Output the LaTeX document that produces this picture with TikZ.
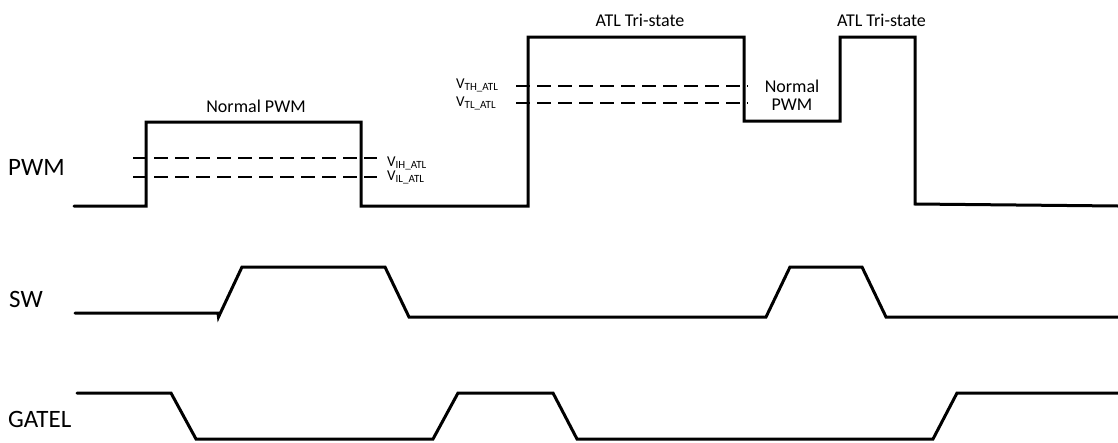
\documentclass[tikz,border=0pt]{standalone}
\usepackage{fontspec}
\setmainfont{Carlito}
\usetikzlibrary{positioning}

\newcommand{\vsub}[1]{{\fontsize{11}{11}\selectfont\raisebox{-2.5pt}{#1}}}

\begin{document}
\begin{tikzpicture}[x=1pt, y=-1pt,
		wave/.style={line width=3pt, line join=miter, line cap=round},
		thresh/.style={line width=2pt, dash pattern=on 13.5pt off 7.5pt},
		signame/.style={anchor=base west, inner sep=0pt, font=\fontsize{25}{30}\selectfont},
		phase/.style={inner sep=0pt, align=center, font=\fontsize{18}{18}\selectfont},
		vlevel/.style={anchor=base west, inner sep=0pt, font=\fontsize{15}{16}\selectfont}]
			\useasboundingbox (0, 0) rectangle (1118, 442);

			% signal names
			\node (pwm) at (8, 175) [signame] {PWM};
			\node (sw) at (9, 307) [signame] {SW};
			\node (gatel) at (8, 427) [signame] {GATEL};

			% phase labels
			\node (norm1) at (256, 112) [phase, anchor=base] {Normal PWM};
			\node (tri1) at (640, 26) [phase, anchor=base] {ATL Tri-state};
			\node (norm2) at (792, 95) [phase] {Normal\\PWM};
			\node (tri2) at (881.5, 26) [phase, anchor=base] {ATL Tri-state};

			% threshold labels
			\node (vih) at (387, 166) [vlevel] {V\vsub{IH\_ATL}};
			\node (vil) at (387, 180) [vlevel] {V\vsub{IL\_ATL}};
			\node (vth) at (456, 88) [vlevel] {V\vsub{TH\_ATL}};
			\node (vtl) at (456, 106) [vlevel] {V\vsub{TL\_ATL}};

			% thresholds
			\draw[thresh] (133, 158) -- (377, 158);
			\draw[thresh] (133, 177) -- (377, 177);
			\draw[thresh] (516, 86) -- (748, 86);
			\draw[thresh] (516, 103) -- (748, 103);

			% waveforms
			\draw[wave] (74, 206) -- (146, 206) -- (146, 122) -- (361, 122) -- (361, 206) -- (528, 206)
				-- (528, 37) -- (744, 37) -- (744, 121) -- (840, 121) -- (840, 37) -- (915, 37)
				-- (915, 204) -- (1118, 206);
			\draw[wave] (75, 313) -- (218, 313) -- (218.5, 317) -- (242, 267) -- (385, 267) -- (409, 317)
				-- (766, 317) -- (790, 267) -- (862, 267) -- (886, 317) -- (1118, 317);
			\draw[wave] (77, 393) -- (171, 393) -- (196, 439) -- (433, 439) -- (458, 393) -- (553, 393)
				-- (577, 439) -- (933, 439) -- (957, 393) -- (1118, 393);
		\end{tikzpicture}
\end{document}
